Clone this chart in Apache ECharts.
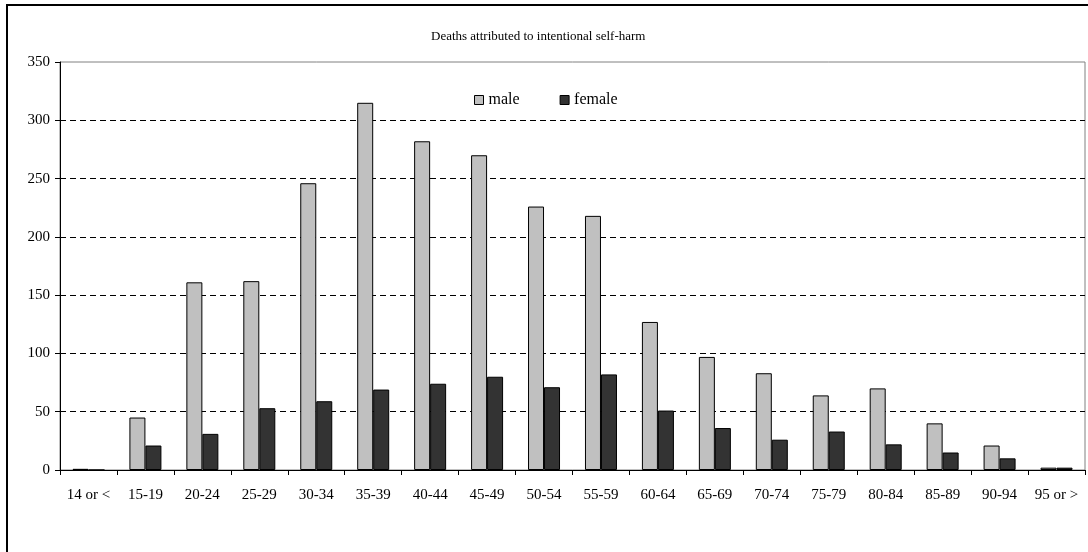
<!DOCTYPE html>
<html>
<head>
<meta charset="utf-8">
<script src="https://cdn.jsdelivr.net/npm/echarts@6/dist/echarts.min.js"></script>
<style>html,body{margin:0;padding:0;background:#fff}#c{width:1088px;height:552px}</style>
</head>
<body>
<div id="c"></div>
<script>
const categories = ['14 or <','15-19','20-24','25-29','30-34','35-39','40-44','45-49','50-54','55-59','60-64','65-69','70-74','75-79','80-84','85-89','90-94','95 or >'];
const maleValues = [1,45,161,162,246,315,282,270,226,218,127,97,83,64,70,40,21,2];
const femaleValues = [0,21,31,53,59,69,74,80,71,82,51,36,26,33,22,15,10,2];
const yTicks = [0,50,100,150,200,250,300,350];

const font = '"Liberation Serif", "Times New Roman", serif';
const chart = echarts.init(document.getElementById('c'));
chart.setOption({
  animation: false,
  backgroundColor: '#fff',
  title: {
    text: 'Deaths attributed to intentional self-harm',
    left: 426, top: 25,
    textStyle: { fontFamily: font, fontSize: 13, fontWeight: 'normal', color: '#000' }
  },
  legend: {
    left: 469, top: 87,
    itemWidth: 9, itemHeight: 9, itemGap: 40,
    textStyle: { fontFamily: font, fontSize: 16, color: '#000' },
    data: [
      { name: 'male', icon: 'rect', itemStyle: { color: '#c0c0c0', borderColor: '#000', borderWidth: 1 } },
      { name: 'female', icon: 'rect', itemStyle: { color: '#333333', borderColor: '#000', borderWidth: 1 } }
    ]
  },
  grid: {
    left: 60, top: 62, right: 3, bottom: 82,
    show: true, borderColor: '#808080', borderWidth: 1, backgroundColor: 'transparent'
  },
  graphic: [{
    type: 'rect', silent: true, z: 100,
    shape: { x: 7, y: 5, width: 1100, height: 600 },
    style: { fill: 'none', stroke: '#000', lineWidth: 2 }
  }],
  xAxis: {
    type: 'category', data: categories,
    axisLine: { lineStyle: { color: '#000', width: 1 } },
    axisTick: { show: true, length: 5, lineStyle: { color: '#000' } },
    axisLabel: { fontFamily: font, fontSize: 15, color: '#000', margin: 18, interval: 0 }
  },
  yAxis: {
    type: 'value', min: 0, max: 350, interval: 50,
    axisLine: { show: true, lineStyle: { color: '#000', width: 1 } },
    axisTick: { show: true, length: 5, lineStyle: { color: '#000' } },
    axisLabel: {
      fontFamily: font, fontSize: 15, color: '#000', margin: 10,
      formatter: v => yTicks.includes(v) ? String(v) : ''
    },
    splitLine: { show: true, showMaxLine: false, showMinLine: false,
      lineStyle: { color: '#000', type: [6,4], width: 1 } }
  },
  series: [
    { name: 'male', type: 'bar', data: maleValues, barWidth: 16, barGap: '0%',
      itemStyle: { color: '#c0c0c0', borderColor: '#000', borderWidth: 1 } },
    { name: 'female', type: 'bar', data: femaleValues, barWidth: 16, barGap: '0%',
      itemStyle: { color: '#333333', borderColor: '#000', borderWidth: 1 } }
  ]
});
</script>
</body>
</html>
